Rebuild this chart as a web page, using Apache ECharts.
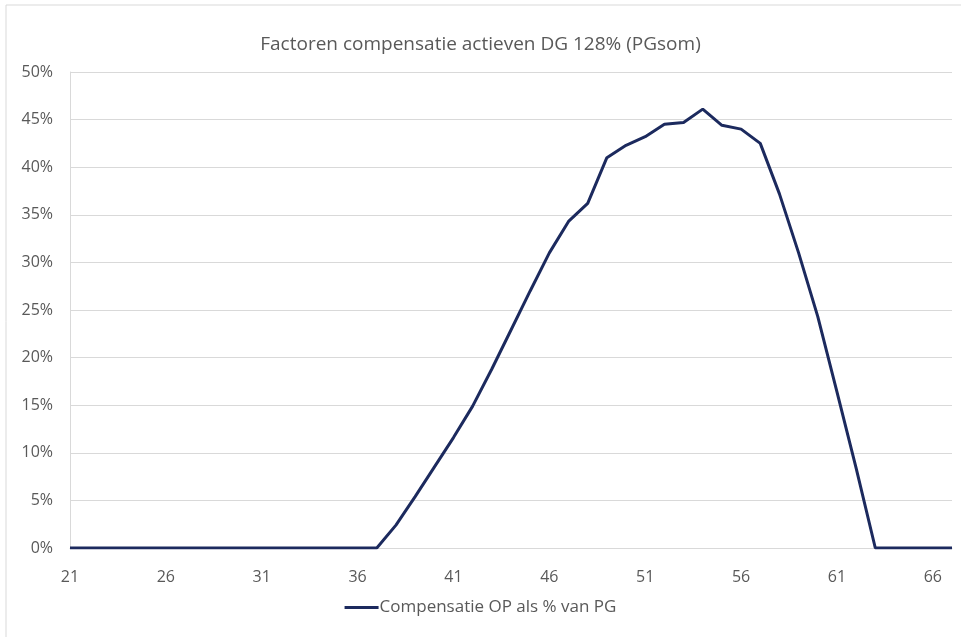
<!DOCTYPE html>
<html>
<head>
<meta charset="utf-8">
<title>Factoren compensatie actieven DG 128% (PGsom)</title>
<script src="https://cdn.jsdelivr.net/npm/echarts@6/dist/echarts.min.js"></script>
<style>
  html, body { margin: 0; padding: 0; background: #fff; }
  #chart { width: 961px; height: 637px; }
</style>
</head>
<body>
<div id="chart"></div>
<script>
// leeftijden 21 t/m 67
var ages = [];
for (var a = 21; a <= 67; a++) ages.push(String(a));

var compensatie = [
  0, 0, 0, 0, 0, 0, 0, 0, 0, 0,          // 21-30
  0, 0, 0, 0, 0, 0, 0,                   // 31-37
  2.4, 5.4, 8.5, 11.6, 14.9, 18.8, 22.9, 27.0, 31.0, 34.3,   // 38-47
  36.2, 41.0, 42.3, 43.2, 44.5, 44.7, 46.1, 44.4, 44.0, 42.5, // 48-57
  37.2, 31.0, 24.3, 16.4, 8.4, 0,        // 58-63
  0, 0, 0, 0                             // 64-67
];

var yTicks = [0, 5, 10, 15, 20, 25, 30, 35, 40, 45, 50];

var myChart = echarts.init(document.getElementById('chart'));
myChart.setOption({
  animation: false,
  textStyle: { fontFamily: 'Open Sans, Noto Sans, sans-serif' },
  // lichte kader rond de grafiek
  graphic: [{
    type: 'rect',
    shape: { x: 6, y: 5, width: 1000, height: 1000 },
    style: { fill: 'none', stroke: '#d9d9d9', lineWidth: 1 },
    silent: true
  }],
  title: {
    text: 'Factoren compensatie actieven DG 128% (PGsom)',
    left: 'center',
    top: 30,
    textStyle: { color: '#595959', fontSize: 19, fontWeight: 'normal' }
  },
  legend: {
    bottom: 16,
    left: 'center',
    itemWidth: 34,
    itemHeight: 3,
    itemGap: 4,
    icon: 'rect',
    textStyle: { color: '#595959', fontSize: 17, padding: [0, 0, 0, -4] },
    data: ['Compensatie OP als % van PG']
  },
  grid: { left: 70, right: 9, top: 72, bottom: 89 },
  xAxis: {
    type: 'category',
    boundaryGap: false,
    data: ages,
    axisLine: { lineStyle: { color: '#d9d9d9' } },
    axisTick: { show: false },
    axisLabel: { interval: 4, color: '#595959', fontSize: 16, margin: 21 },
    splitLine: { show: false }
  },
  yAxis: {
    type: 'value',
    min: 0,
    max: 50,
    interval: 5,
    axisLine: { show: true, lineStyle: { color: '#d9d9d9' } },
    axisTick: { show: false },
    axisLabel: {
      color: '#595959',
      fontSize: 16,
      margin: 17,
      formatter: function (v) { return yTicks.indexOf(v) >= 0 ? v + '%' : ''; }
    },
    splitLine: { lineStyle: { color: '#d9d9d9', width: 1 } }
  },
  series: [{
    name: 'Compensatie OP als % van PG',
    type: 'line',
    data: compensatie,
    showSymbol: false,
    symbol: 'none',
    lineStyle: { color: '#1c2a5e', width: 3 },
    itemStyle: { color: '#1c2a5e' }
  }]
});
window.addEventListener('resize', function () { myChart.resize(); });
</script>
</body>
</html>
